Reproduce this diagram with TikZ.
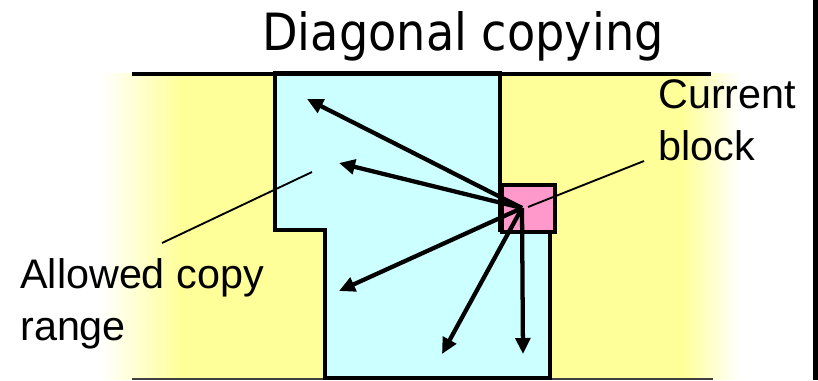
\documentclass[tikz,border=0pt]{standalone}
\usepackage{fontspec}
\setmainfont{Liberation Sans}
\newfontfamily\titlefont[FakeStretch=0.9]{DejaVu Sans}
\usetikzlibrary{arrows.meta}
\definecolor{bgyellow}{HTML}{FFFF99}
\definecolor{rangecyan}{HTML}{CCFFFF}
\definecolor{blockpink}{HTML}{FF99CC}
\tikzset{
  lab/.style={font=\fontsize{31}{38.5}\selectfont, align=left, inner sep=0pt},
  outline/.style={line width=3pt, line join=miter},
  copyarrow/.style={line width=3.2pt, -{Triangle[length=12pt,width=11pt]}},
  leader/.style={line width=1.4pt},
}
\begin{document}
\begin{tikzpicture}[x=0.75pt,y=-0.75pt]
\useasboundingbox (0,0) rectangle (818,380);
% yellow background with faded sides
\fill[bgyellow] (180,73) rectangle (683,379);
\shade[left color=white, right color=bgyellow, draw=none] (100,73) rectangle (180.5,379);
\shade[left color=bgyellow, right color=white, draw=none] (682.5,73) rectangle (740,379);
% bottom rule
\draw[line width=1.5pt, black!75] (132,379) -- (713,379);
% allowed range
\draw[outline, fill=rangecyan] (275,73) -- (500,73) -- (500,230) -- (550,230) -- (550,378) -- (325,378) -- (325,230) -- (275,230) -- cycle;
% top rule
\draw[line width=3pt] (132,74) -- (711,74);
% current block
\node (blk) [draw, outline, fill=blockpink, inner sep=0pt,
  minimum width=39.75pt, minimum height=35.25pt, anchor=north west] at (500,183) {};
% right edge bar
\fill[black] (813,0) rectangle (818,380);
% title
\node (title) [font=\titlefont\fontsize{38.5}{46}\selectfont, anchor=base, inner sep=0pt] at (463,50) {Diagonal copying};
% labels (anchored at the baseline of their last line)
\node (cur) [lab, anchor=base west] at (658,160) {Current\\block};
\node (allowed) [lab, anchor=base west] at (20,340) {Allowed copy\\range};
% arrows
\coordinate (o) at (522,208);
\coordinate (t1) at (307,99);
\coordinate (t2) at (339,163);
\coordinate (t3) at (339,291);
\coordinate (t4) at (442,354);
\coordinate (t5) at (523,354);
\foreach \t in {t1,t2,t3,t4,t5} \draw[copyarrow] (o) -- (\t);
% leaders
\coordinate (la1) at (162,243);
\coordinate (la2) at (312,172);
\coordinate (lc1) at (644,161);
\coordinate (lc2) at (528,207);
\draw[leader] (la1) -- (la2);
\draw[leader] (lc1) -- (lc2);
\end{tikzpicture}
\end{document}
